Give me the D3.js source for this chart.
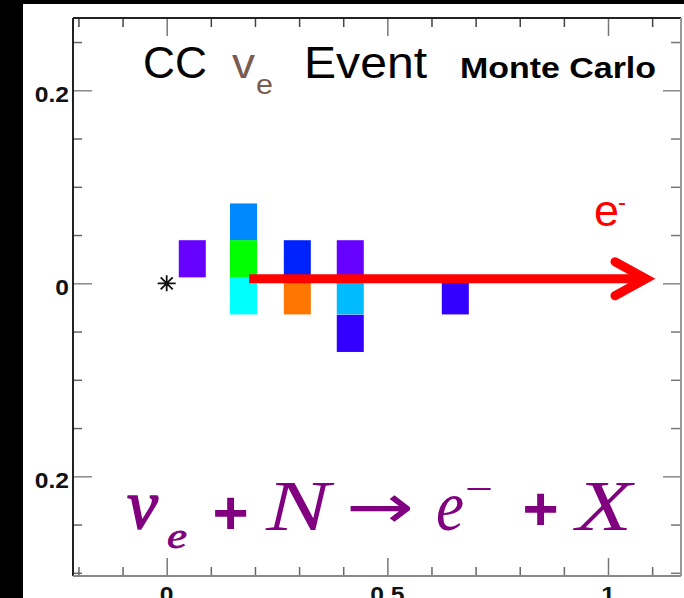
<!DOCTYPE html>
<html><head><meta charset="utf-8">
<script src="https://cdn.jsdelivr.net/npm/d3@7"></script>
<style>html,body{margin:0;padding:0;background:#000;overflow:hidden}</style>
</head><body>
<svg id="c" width="684" height="598"></svg>
<script>
// ---- data ----
const xDomain = [-0.2123, 1.1654];
const yDomain = [-0.3033, 0.2749];
const xMajorTicks = [0, 0.5, 1];
const xMajorLabels = ["0", "0.5", "1"];
const xMinorTicks = [-0.2, -0.1, 0.1, 0.2, 0.3, 0.4, 0.6, 0.7, 0.8, 0.9, 1.1];
const yMajorTicks = [-0.2, 0, 0.2];
const yMajorLabels = ["0.2", "0", "0.2"];
const yMinorTicks = [-0.3, -0.25, -0.15, -0.1, -0.05, 0.05, 0.1, 0.15, 0.25];
const cellX = [0.058, 0.174, 0.174, 0.174, 0.296, 0.296, 0.416, 0.416, 0.416, 0.654];
const cellY = [0.0254, 0.0635, 0.0254, -0.013, 0.0254, -0.013, 0.0254, -0.013, -0.0519, -0.013];
const cellColor = ["#6600ff", "#0088ff", "#00ff00", "#00ffff", "#0022ff", "#ff7700", "#6600ff", "#00bbff", "#3300ff", "#3300ff"];
const cellW = 0.0612, cellH = 0.0385;
const vertex = [0, 0];
const electronStart = [0.187, 0.0047];
const electronEnd = [1.111, 0.0047];

// ---- layout ----
const svg = d3.select("#c");
const L = 73, R = 681, T = 18, B = 576;
const x = d3.scaleLinear().domain(xDomain).range([L, R]);
const y = d3.scaleLinear().domain(yDomain).range([B, T]);

svg.append("rect").attr("width", 684).attr("height", 598).attr("fill", "#000");
svg.append("rect").attr("x", 23).attr("y", 4).attr("width", 661).attr("height", 594).attr("fill", "#fff");

// cells
svg.append("g").selectAll("rect").data(cellX).join("rect")
  .attr("x", (d) => x(d - cellW / 2))
  .attr("y", (d, i) => y(cellY[i] + cellH / 2))
  .attr("width", (d) => x(d + cellW / 2) - x(d - cellW / 2))
  .attr("height", (d, i) => y(cellY[i] - cellH / 2) - y(cellY[i] + cellH / 2))
  .attr("fill", (d, i) => cellColor[i]);

// vertex star
const vx = x(vertex[0]), vy = y(vertex[1]);
svg.append("path")
  .attr("d", `M${vx-9},${vy}L${vx+9},${vy}M${vx},${vy-8}L${vx},${vy+8}M${vx-6},${vy-6}L${vx+6},${vy+6}M${vx-6},${vy+6}L${vx+6},${vy-6}`)
  .attr("stroke", "#111").attr("stroke-width", 1.8).attr("fill", "none");

// electron arrow
const ax0 = x(electronStart[0]), ay = y(electronStart[1]), ax1 = x(electronEnd[0]);
svg.append("path")
  .attr("d", `M${ax0},${ay}L${ax1-12},${ay}`)
  .attr("stroke", "#ff0000").attr("stroke-width", 9).attr("fill", "none");
svg.append("path")
  .attr("d", `M${ax1-42},${ay-17}L${ax1-11},${ay}L${ax1-42},${ay+17}`)
  .attr("stroke", "#ff0000").attr("stroke-width", 9).attr("fill", "none")
  .attr("stroke-linecap", "round").attr("stroke-linejoin", "miter");

// axes ticks
function tickAxis(axisFn, scale, vals, size, tr, color) {
  const g = svg.append("g").attr("transform", tr)
    .call(axisFn(scale).tickValues(vals).tickSize(size).tickFormat(""));
  g.select(".domain").remove();
  g.selectAll(".tick line").attr("stroke", color).attr("stroke-width", 1.5);
  return g;
}
tickAxis(d3.axisBottom, x, xMinorTicks, -9, `translate(0,${B})`, "#666");
tickAxis(d3.axisBottom, x, xMajorTicks, -18, `translate(0,${B})`, "#777");
tickAxis(d3.axisTop, x, xMinorTicks, -9, `translate(0,${T})`, "#444");
tickAxis(d3.axisTop, x, xMajorTicks, -18, `translate(0,${T})`, "#777");
tickAxis(d3.axisLeft, y, yMinorTicks, -9, `translate(${L},0)`, "#666");
tickAxis(d3.axisLeft, y, yMajorTicks, -19, `translate(${L},0)`, "#888");
tickAxis(d3.axisRight, y, yMinorTicks, -10, `translate(${R},0)`, "#777");
tickAxis(d3.axisRight, y, yMajorTicks, -18, `translate(${R},0)`, "#888");

// frame
svg.append("line").attr("x1", L).attr("x2", R).attr("y1", T).attr("y2", T).attr("stroke", "#222").attr("stroke-width", 2);
svg.append("line").attr("x1", L).attr("x2", L).attr("y1", T).attr("y2", B).attr("stroke", "#222").attr("stroke-width", 2);
svg.append("line").attr("x1", R).attr("x2", R).attr("y1", T).attr("y2", B).attr("stroke", "#999").attr("stroke-width", 2);
svg.append("line").attr("x1", L).attr("x2", R).attr("y1", B).attr("y2", B).attr("stroke", "#888").attr("stroke-width", 2);

// tick labels
const labFont = "'Liberation Sans', Arial, sans-serif";
function stretch(sel, k) {
  sel.each(function () {
    const w = this.getComputedTextLength();
    d3.select(this).attr("textLength", w * k).attr("lengthAdjust", "spacingAndGlyphs");
  });
}
const yl = svg.append("g").selectAll("text").data(yMajorTicks).join("text")
  .attr("x", 69).attr("y", (d) => y(d) + 12)
  .attr("text-anchor", "end").attr("font-family", labFont).attr("font-weight", "bold")
  .attr("font-size", 22).attr("fill", "#111")
  .text((d, i) => yMajorLabels[i]);
stretch(yl, 1.12);
const xl = svg.append("g").selectAll("text").data(xMajorTicks).join("text")
  .attr("x", (d) => x(d)).attr("y", 602)
  .attr("text-anchor", "middle").attr("font-family", labFont).attr("font-weight", "bold")
  .attr("font-size", 22).attr("fill", "#111")
  .text((d, i) => xMajorLabels[i]);
stretch(xl, 1.12);

// title
const sans = "'Liberation Sans', Arial, Helvetica, sans-serif";
function txt(s, px, py, size, color, opts = {}) {
  const t = svg.append("text").attr("x", px).attr("y", py)
    .attr("font-family", opts.family || sans).attr("font-size", size).attr("fill", color)
    .attr("font-weight", opts.weight || "normal").attr("font-style", opts.style || "normal")
    .attr("text-anchor", opts.anchor || "start").text(s);
  if (opts.len) t.attr("textLength", opts.len).attr("lengthAdjust", "spacingAndGlyphs");
  if (opts.stroke) t.attr("stroke", color).attr("stroke-width", opts.stroke);
  return t;
}
txt("CC", 143, 78, 44, "#000", { len: 64 });
txt("v", 232, 78, 42, "#7a5c52", { len: 23 });
txt("e", 256, 94, 27, "#7a5c52", { len: 17 });
txt("Event", 304, 78, 45, "#000", { len: 123 });
txt("Monte Carlo", 460, 78, 29, "#000", { weight: "bold", len: 196 });

// electron label
txt("e", 594, 226, 44, "#ff0000", { len: 25 });
txt("-", 618, 210, 24, "#ff0000");

// formula
const serif = "'Liberation Serif', 'Times New Roman', serif";
const purple = "#800080";
txt("ν", 127, 528, 70, purple, { family: serif, style: "italic", len: 31, stroke: 1.5 });
txt("e", 167, 548, 36, purple, { family: serif, style: "italic", len: 20, stroke: 0.8 });
txt("+", 230.5, 534, 62, purple, { family: sans, weight: "bold", anchor: "middle" });
txt("N", 266, 530, 71, purple, { family: serif, style: "italic", len: 64 });
txt("→", 346, 528, 62, purple, { family: "'DejaVu Sans', sans-serif", len: 68 });
txt("e", 436, 530, 71, purple, { family: serif, style: "italic", len: 28 });
txt("−", 465, 502, 40, purple, { family: serif, len: 28 });
txt("+", 540.5, 530, 62, purple, { family: sans, weight: "bold", anchor: "middle" });
txt("X", 576, 530, 71, purple, { family: serif, style: "italic", len: 56 });
</script>
</body></html>
